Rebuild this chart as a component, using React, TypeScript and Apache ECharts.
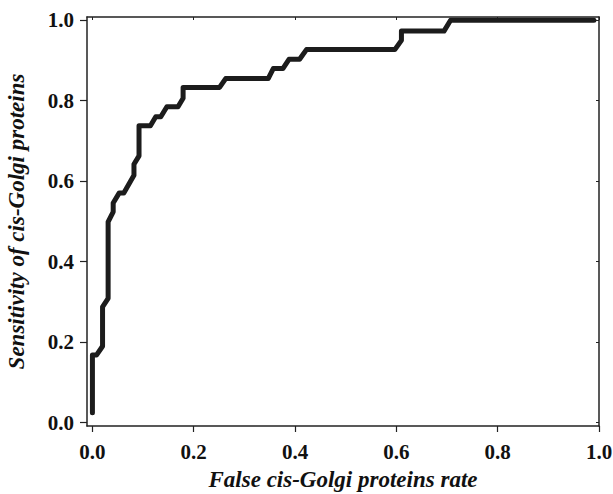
import React, { useEffect, useRef } from "react";
import * as echarts from "echarts";

const fpr = [0, 0, 0.008, 0.02, 0.02, 0.031, 0.031, 0.041, 0.041, 0.053, 0.062, 0.082, 0.082, 0.092, 0.092, 0.1145, 0.125, 0.135, 0.147, 0.169, 0.179, 0.179, 0.251, 0.263, 0.347, 0.357, 0.376, 0.388, 0.409, 0.4225, 0.597, 0.61, 0.61, 0.694, 0.707, 0.99];
const tpr = [0.025, 0.168, 0.168, 0.19, 0.288, 0.309, 0.499, 0.524, 0.546, 0.571, 0.571, 0.615, 0.642, 0.663, 0.738, 0.738, 0.76, 0.76, 0.785, 0.785, 0.806, 0.833, 0.833, 0.855, 0.855, 0.88, 0.88, 0.903, 0.903, 0.927, 0.927, 0.95, 0.973, 0.973, 1.0, 1.0];
const tickValues = [0, 0.2, 0.4, 0.6, 0.8, 1.0];
const xTitle = "False cis-Golgi proteins rate";
const yTitle = "Sensitivity of cis-Golgi proteins";

const FONT = '"Liberation Serif", "Times New Roman", serif';

export default function App() {
  const ref = useRef<HTMLDivElement>(null);
  useEffect(() => {
    if (!ref.current) return;
    const chart = echarts.init(ref.current, null, { renderer: "svg" });
    const lineCol = "#222";
    const labelStyle = {
      color: "#111",
      fontFamily: FONT,
      fontWeight: "bold" as const,
      fontSize: 21,
      formatter: (v: number) => v.toFixed(1),
    };
    const titleStyle = { color: "#111", fontFamily: FONT, fontWeight: "bold", fontStyle: "italic", fontSize: 23 };
    chart.setOption({
      animation: false,
      backgroundColor: "#fff",
      grid: { left: 87, top: 17, width: 512, height: 409, containLabel: false, outerBoundsMode: "none" },
      xAxis: [
        {
          type: "value",
          min: -0.0107,
          max: 1.0,
          position: "bottom",
          splitLine: { show: false },
          axisLine: { show: true, onZero: false, lineStyle: { color: lineCol, width: 1.5 } },
          axisTick: { show: true, inside: false, length: 6, customValues: tickValues, lineStyle: { color: lineCol, width: 1.2 } },
          axisLabel: { ...labelStyle, margin: 15, customValues: tickValues },
          name: xTitle,
          nameLocation: "middle",
          nameGap: 42,
          nameTextStyle: titleStyle,
        },
        {
          type: "value",
          min: -0.0107,
          max: 1.0,
          position: "top",
          splitLine: { show: false },
          axisLine: { show: true, onZero: false, lineStyle: { color: lineCol, width: 1.5 } },
          axisTick: { show: true, inside: true, length: 3, customValues: tickValues, lineStyle: { color: lineCol, width: 1 } },
          axisLabel: { show: false },
        },
      ],
      yAxis: [
        {
          type: "value",
          min: -0.0082,
          max: 1.008,
          position: "left",
          splitLine: { show: false },
          axisLine: { show: true, onZero: false, lineStyle: { color: lineCol, width: 1.5 } },
          axisTick: { show: true, inside: false, length: 7, customValues: tickValues, lineStyle: { color: lineCol, width: 1.2 } },
          axisLabel: { ...labelStyle, margin: 13, customValues: tickValues },
          name: yTitle,
          nameLocation: "middle",
          nameGap: 59,
          nameRotate: 90,
          nameTextStyle: titleStyle,
        },
        {
          type: "value",
          min: -0.0082,
          max: 1.008,
          position: "right",
          splitLine: { show: false },
          axisLine: { show: true, onZero: false, lineStyle: { color: lineCol, width: 1.5 } },
          axisTick: { show: true, inside: true, length: 3, customValues: tickValues, lineStyle: { color: lineCol, width: 1 } },
          axisLabel: { show: false },
        },
      ],
      series: [
        {
          type: "line",
          xAxisIndex: 0,
          yAxisIndex: 0,
          data: fpr.map((x, i) => [x, tpr[i]]),
          showSymbol: false,
          symbol: "none",
          lineStyle: { color: "#1c1c1c", width: 5, cap: "round", join: "round" },
        },
      ],
    });
    return () => chart.dispose();
  }, []);
  return <div ref={ref} style={{ width: 613, height: 494, position: "absolute", left: 0, top: 0 }} />;
}
